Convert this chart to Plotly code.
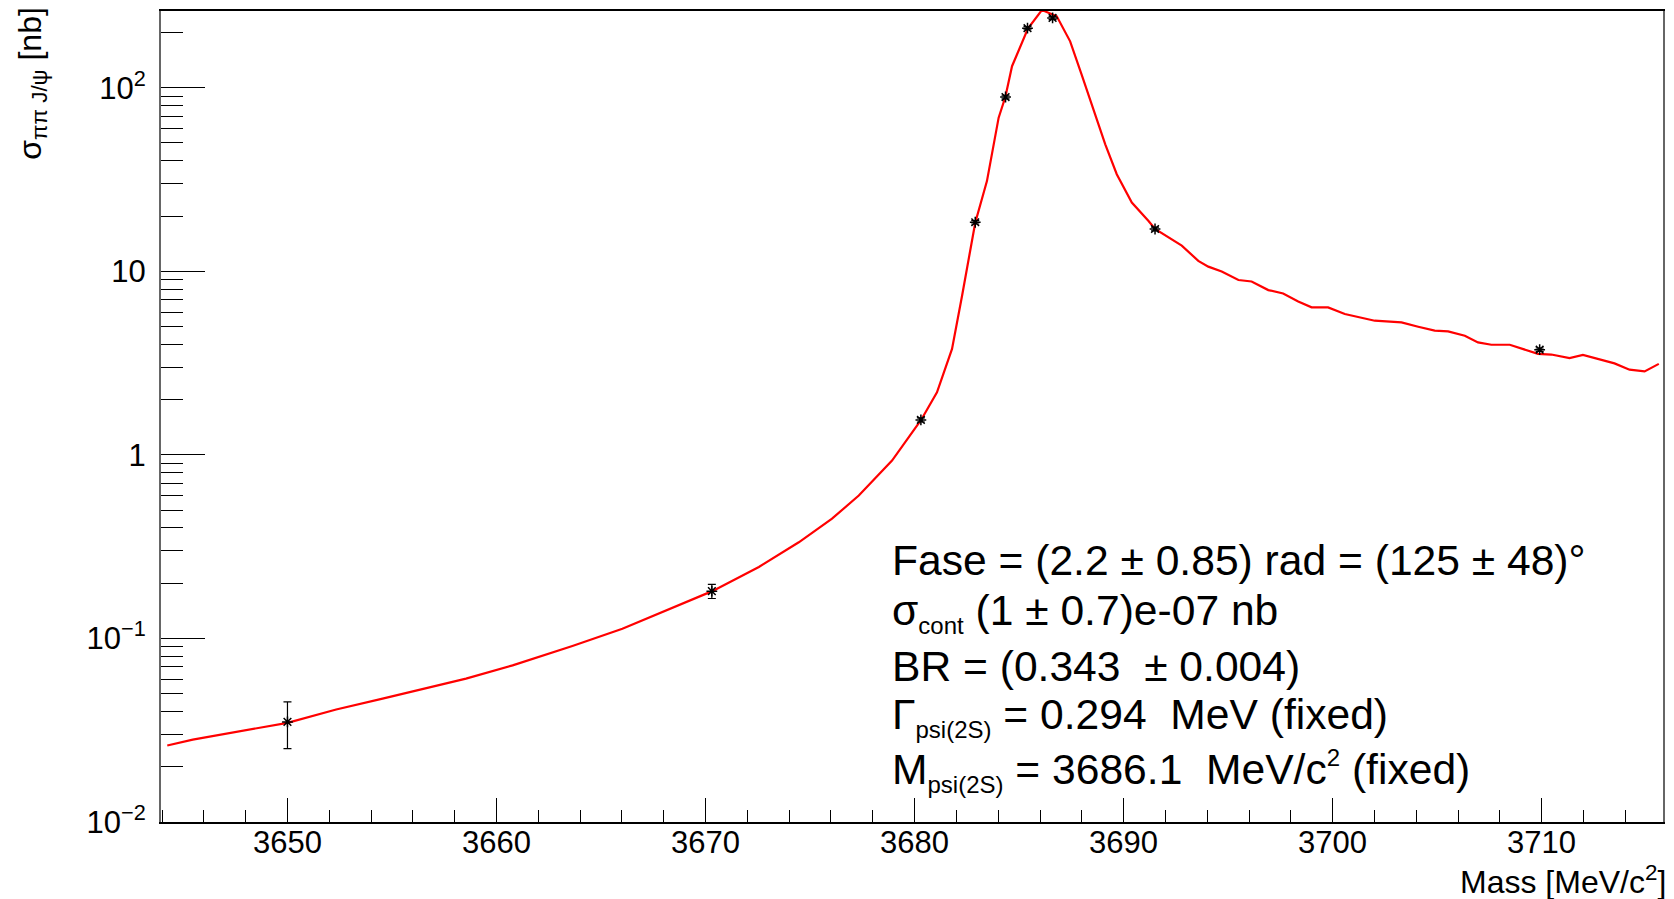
import plotly.graph_objects as go

# ---- data ----
data_mass = [3650.0, 3670.3, 3680.3, 3682.9, 3684.35, 3685.4, 3686.6, 3691.5, 3709.9]
data_sigma = [0.0351, 0.181, 1.55, 18.5, 89.0, 211.0, 240.0, 17.0, 3.74]
data_err = [0.010, 0.016, 0.04, 0.4, 2.0, 4.0, 5.0, 0.4, 0.08]

fit_mass = [3644.25, 3645.47, 3650.0, 3652.33, 3654.55, 3656.63, 3658.54, 3660.77, 3662.52,
            3663.63, 3666.02, 3668.0, 3670.32, 3672.55, 3674.46, 3676.05, 3677.33, 3678.92,
            3680.31, 3681.07, 3681.79, 3682.27, 3682.90, 3683.46, 3684.02, 3684.34, 3684.66,
            3685.42, 3686.09, 3686.80, 3687.44, 3687.99, 3688.8, 3689.12, 3689.67, 3690.39,
            3691.19, 3691.5, 3692.78, 3693.57, 3694.05, 3694.69, 3695.49, 3696.12, 3696.92,
            3697.63, 3698.35, 3698.99, 3699.78, 3700.58, 3702.01, 3703.29, 3704.09, 3704.88,
            3705.52, 3706.32, 3706.95, 3707.59, 3708.47, 3709.82, 3710.46, 3711.33, 3711.97,
            3712.69, 3713.48, 3714.2, 3714.92, 3715.6]
fit_sigma = [0.0261, 0.0281, 0.0347, 0.041, 0.047, 0.0533, 0.0604, 0.0713, 0.0827,
             0.091, 0.113, 0.140, 0.181, 0.245, 0.334, 0.449, 0.601, 0.931,
             1.55, 2.19, 3.78, 7.36, 18.4, 31.0, 68.7, 89.0, 131.0,
             210.0, 265.0, 245.0, 179.0, 118.0, 63.2, 49.2, 33.8, 23.7,
             18.8, 17.0, 13.8, 11.4, 10.6, 9.98, 8.96, 8.8, 7.9,
             7.57, 6.85, 6.36, 6.36, 5.85, 5.38, 5.27, 4.99, 4.75,
             4.71, 4.46, 4.10, 3.98, 3.98, 3.55, 3.52, 3.37, 3.50,
             3.33, 3.15, 2.91, 2.85, 3.13]

x_tickvals = [3650, 3660, 3670, 3680, 3690, 3700, 3710]
x_ticktext = ["3650", "3660", "3670", "3680", "3690", "3700", "3710"]
y_tickvals = [0.01, 0.1, 1, 10, 100]
y_ticktext = ["10<sup>\u22122</sup>", "10<sup>\u22121</sup>", "1", "10", "10<sup>2</sup>"]

SUBSTYLE = "<span style='font-size:24px'>{}</span>"
fit_lines = [
    "Fase = (2.2 \u00b1 0.85) rad = (125 \u00b1 48)\u00b0",
    "\u03c3<sub>" + SUBSTYLE.format("cont") + "</sub> (1 \u00b1 0.7)e-07 nb",
    "BR = (0.343 \u00a0\u00b1 0.004)",
    "\u0393<sub>" + SUBSTYLE.format("psi(2S)") + "</sub> = 0.294 \u00a0MeV (fixed)",
    "M<sub>" + SUBSTYLE.format("psi(2S)") + "</sub> = 3686.1 \u00a0MeV/c<sup>"
    + SUBSTYLE.format("2") + "</sup> (fixed)",
]

FONT = "Liberation Sans, Arial, Helvetica, sans-serif"

x_minor = [v for v in range(3644, 3716, 2) if v % 10 != 0]
y_minor = [m * 10 ** e for e in range(-2, 3) for m in range(2, 10)]

fig = go.Figure()
fig.add_trace(go.Scatter(
    x=fit_mass, y=fit_sigma, mode="lines",
    line=dict(color="#ff0000", width=2.2), hoverinfo="skip", showlegend=False))
fig.add_trace(go.Scatter(
    x=data_mass, y=data_sigma, mode="markers",
    marker=dict(symbol="asterisk-open", size=9, color="black", line=dict(color="black", width=1.5)),
    error_y=dict(type="data", array=data_err, color="black", thickness=1.2, width=4),
    showlegend=False))

X0, X1 = 3643.95, 3715.8
fig.update_layout(
    width=1674, height=899,
    margin=dict(l=161, r=9, t=10, b=77),
    paper_bgcolor="white", plot_bgcolor="white",
    font=dict(family=FONT, color="black"),
    xaxis=dict(range=[X0, X1], tickmode="array", tickvals=x_tickvals, ticktext=x_ticktext,
               showticklabels=False,
               ticks="inside", ticklen=24, tickwidth=1.2, tickcolor="black",
               minor=dict(tickmode="array", tickvals=x_minor, ticks="inside", ticklen=12,
                          tickwidth=1.2, tickcolor="black", showgrid=False),
               showgrid=False, zeroline=False, showline=True, linecolor="black", linewidth=1.5,
               mirror=True),
    yaxis=dict(type="log", range=[-2, 2.418], tickmode="array", tickvals=y_tickvals,
               ticktext=y_ticktext,
               ticks="inside", ticklen=44, tickwidth=1.2, tickcolor="black",
               minor=dict(tickmode="array", tickvals=y_minor, ticks="inside", ticklen=22,
                          tickwidth=1.2, tickcolor="black", showgrid=False),
               showgrid=False, zeroline=False, showline=True, linecolor="#666666", linewidth=2,
               mirror=True, tickfont=dict(size=31, family=FONT), ticklabelstandoff=7),
)

annotations = []
# x tick labels (placed closer to the axis than Plotly allows)
for v, t in zip(x_tickvals, x_ticktext):
    annotations.append(dict(
        text=t, xref="x", yref="paper", x=v, y=-(843 - 822) / 812,
        xanchor="center", yanchor="middle", showarrow=False,
        font=dict(size=31, family=FONT)))
# axis titles
annotations.append(dict(
    text="Mass [MeV/c<sup>2</sup>]", xref="paper", yref="paper",
    x=(1670 - 161) / 1504, y=-(880 - 822) / 812, xanchor="right", yanchor="middle",
    showarrow=False, font=dict(size=32, family=FONT)))
annotations.append(dict(
    text="\u03c3<sub>\u03c0\u03c0 J/\u03c8</sub> [nb]", xref="paper", yref="paper",
    x=(32 - 161) / 1504, y=1 + (10 - 4) / 812, xanchor="center", yanchor="top",
    textangle=-90, showarrow=False, font=dict(size=32, family=FONT)))

line_centers = [560, 612, 666, 716, 771]
for txt, yc in zip(fit_lines, line_centers):
    annotations.append(dict(
        text=txt, xref="paper", yref="paper",
        x=(891 - 161) / 1504, y=(822 - yc) / 812, xanchor="left", yanchor="middle",
        showarrow=False, font=dict(size=42.6, family=FONT)))

fig.update_layout(annotations=annotations)
fig.write_html("out.html")
